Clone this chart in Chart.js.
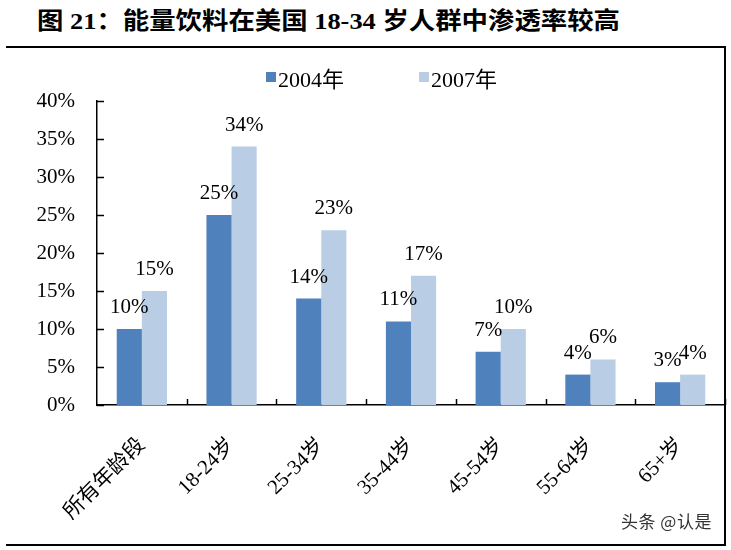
<!DOCTYPE html>
<html><head><meta charset="utf-8">
<script src="https://cdn.jsdelivr.net/npm/chart.js@4.4.1/dist/chart.umd.min.js"></script>
<style>
html,body{margin:0;padding:0;background:#fff;width:731px;height:550px;overflow:hidden}
#wrap{position:relative;width:731px;height:550px}
#title{position:absolute;left:37px;top:1px;font:bold 24px "Liberation Serif","Noto Sans CJK SC";color:#000;white-space:nowrap;transform:scaleX(1.1);transform-origin:0 0}
.hl{position:absolute;background:#000}
#wm{position:absolute;left:621px;top:508px;font:17px "Noto Sans CJK SC";color:#333;letter-spacing:0.5px}
canvas{position:absolute;left:0;top:0}
</style></head><body>
<div id="wrap">
<div id="title">图 21：能量饮料在美国 18-34 岁人群中渗透率较高</div>
<canvas id="c" width="731" height="550"></canvas>
<div class="hl" style="left:6px;top:46px;width:720px;height:2px"></div>
<div class="hl" style="left:724px;top:46px;width:2px;height:500px"></div>
<div class="hl" style="left:6px;top:544px;width:720px;height:2px"></div>
<div id="wm">头条 @认是</div>
</div>
<script>
const categories = ['所有年龄段','18-24岁','25-34岁','35-44岁','45-54岁','55-64岁','65+岁'];
const series2004 = [10,25,14,11,7,4,3];
const series2007 = [15,34,23,17,10,6,4];
const seriesNames = ['2004年','2007年'];
const seriesColors = ['#4F81BD','#B9CDE5'];
const yMin = 0, yMax = 40, yStep = 5;

const SERIF = '"Liberation Serif","Noto Sans CJK SC"';

const extras = {
  id: 'extras',
  afterDatasetsDraw(chart) {
    const ctx = chart.ctx;
    const xs = chart.scales.x, ys = chart.scales.y;
    const ca = chart.chartArea;
    ctx.save();
    // inside ticks
    ctx.strokeStyle = '#000';
    ctx.lineWidth = 1.5;
    ys.ticks.forEach(t => {
      const y = Math.round(ys.getPixelForValue(t.value)) + 0.5;
      ctx.beginPath(); ctx.moveTo(ca.left, y); ctx.lineTo(ca.left + 7, y); ctx.stroke();
    });
    for (let i = 1; i <= categories.length; i++) {
      const x = Math.round(xs.getPixelForValue(i - 0.5)) + 0.5;
      ctx.beginPath(); ctx.moveTo(x, ca.bottom); ctx.lineTo(x, ca.bottom - 6); ctx.stroke();
    }
    // data labels
    ctx.fillStyle = '#000';
    ctx.font = '21px ' + SERIF;
    ctx.textAlign = 'center';
    ctx.textBaseline = 'alphabetic';
    chart.data.datasets.forEach((ds, di) => {
      const meta = chart.getDatasetMeta(di);
      meta.data.forEach((bar, i) => {
        ctx.fillText(ds.data[i] + '%', bar.x, bar.y - 16);
      });
    });
    // legend
    const legendX = [266, 419];
    ctx.textAlign = 'left';
    ctx.font = '22px ' + SERIF;
    chart.data.datasets.forEach((ds, di) => {
      ctx.fillStyle = ds.backgroundColor;
      ctx.fillRect(legendX[di], 72, 10, 10);
      ctx.fillStyle = '#000';
      ctx.fillText(ds.label, legendX[di] + 12, 87);
    });
    ctx.restore();
  }
};

new Chart(document.getElementById('c'), {
  type: 'bar',
  data: {
    labels: categories,
    datasets: [
      { label: seriesNames[0], data: series2004, backgroundColor: seriesColors[0] },
      { label: seriesNames[1], data: series2007, backgroundColor: seriesColors[1] }
    ]
  },
  options: {
    responsive: false,
    animation: false,
    events: [],
    layout: { padding: { top: 101, right: 6, bottom: 0, left: 0 } },
    datasets: { bar: { categoryPercentage: 0.56, barPercentage: 1.0 } },
    plugins: { legend: { display: false }, tooltip: { enabled: false }, title: { display: false } },
    scales: {
      x: {
        grid: { display: false, drawTicks: false },
        border: { display: true, color: '#000', width: 1.5 },
        ticks: { color: '#000', font: { family: SERIF, size: 21 }, minRotation: 45, maxRotation: 45, autoSkip: false, padding: 28 },
        afterFit(s) { s.height = 145; }
      },
      y: {
        min: yMin, max: yMax,
        grid: { display: false, drawTicks: false },
        border: { display: true, color: '#000', width: 1.5 },
        ticks: { stepSize: yStep, color: '#000', font: { family: SERIF, size: 21 }, padding: 22, callback: v => v + '%' },
        afterFit(s) { s.width = 97; }
      }
    }
  },
  plugins: [extras]
});
</script>
</body></html>
